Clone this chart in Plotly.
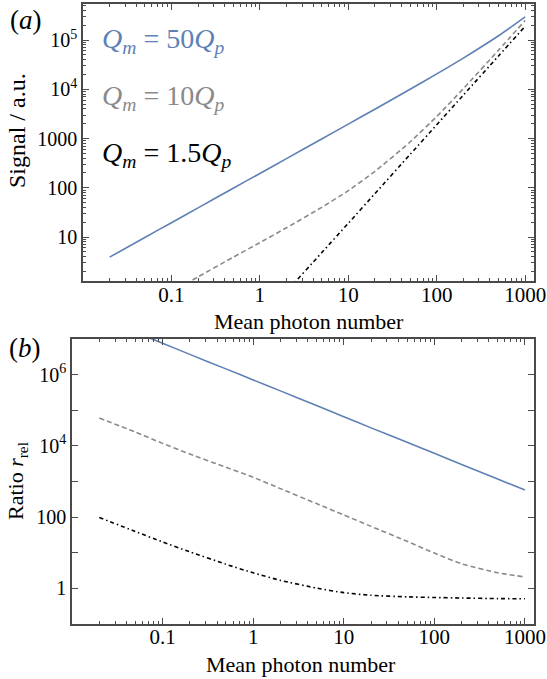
import plotly.graph_objects as go

# Mean photon number sample points (shared by both panels)
n_photons = [0.02, 0.05, 0.1, 0.2, 0.5, 1, 2, 5, 10, 20, 50, 100, 200, 500, 1000]

# Panel (a): signal in arbitrary units
signal_50 = [3.9, 9.8, 19.5, 39, 98, 195, 390, 980, 1960, 3940, 10000, 20500, 43000, 122000, 295000]
n_signal_10 = [0.1, 0.2, 0.5, 1, 2, 5, 10, 20, 50, 100, 200, 500, 1000]
signal_10 = [0.77, 1.55, 3.9, 7.7, 15.4, 40, 87.5, 215, 851, 2800, 10300, 62200, 249000]
n_signal_1p5 = [1, 2, 5, 10, 20, 50, 100, 200, 500, 1000]
signal_1p5 = [0.19, 0.78, 4.8, 19, 76, 475, 1900, 7600, 47500, 190000]

# Panel (b): relative ratio r_rel
ratio_50 = [4.0e7, 1.55e7, 7.6e6, 3.7e6, 1.45e6, 7.1e5, 3.5e5, 1.35e5, 6.6e4, 3.2e4,
            1.26e4, 6.2e3, 3.0e3, 1.17e3, 575]
ratio_10 = [60300, 24500, 11750, 5890, 2510, 1318, 631, 240, 115, 55, 20.9, 9.8, 4.9, 2.75, 2.09]
ratio_1p5 = [98, 39.5, 20.1, 10.6, 4.76, 2.73, 1.68, 1.02, 0.76, 0.64, 0.578, 0.555, 0.536, 0.517, 0.51]

# Tick labels
x_tickvals = [0.1, 1, 10, 100, 1000]
x_ticktext = ["0.1", "1", "10", "100", "1000"]
ya_tickvals = [10, 100, 1000, 1e4, 1e5]
ya_ticktext = ["10", "100", "1000", "10<sup>4</sup>", "10<sup>5</sup>"]
yb_tickvals = [0.1, 1, 10, 100, 1000, 1e4, 1e5, 1e6, 1e7]
yb_ticktext = ["", "1", "", "100", "", "10<sup>4</sup>", "", "10<sup>6</sup>", ""]

BLUE = "#5E81B5"
GRAY = "#8a8a8a"
BLACK = "#000000"
FONT = "'Liberation Serif', 'Times New Roman', Times, serif"
FRAME = "#4a4a4a"

W, H = 547, 679


def px_x(p):
    return p / W


def px_y(p):
    return 1 - p / H


fig = go.Figure()

line_w = 1.6
styles = [
    (BLUE, "solid"),
    (GRAY, "5px,3px"),
    (BLACK, "4px,3px,1.5px,3px"),
]

# Panel (a)
for xs, ys, (c, d) in zip(
    [n_photons, n_signal_10, n_signal_1p5],
    [signal_50, signal_10, signal_1p5],
    styles,
):
    fig.add_trace(go.Scatter(x=xs, y=ys, mode="lines", xaxis="x", yaxis="y",
                             line=dict(color=c, dash=d, width=line_w, shape="spline", smoothing=0.6),
                             showlegend=False, hoverinfo="skip"))

# Panel (b)
for ys, (c, d) in zip([ratio_50, ratio_10, ratio_1p5], styles):
    fig.add_trace(go.Scatter(x=n_photons, y=ys, mode="lines", xaxis="x2", yaxis="y2",
                             line=dict(color=c, dash=d, width=line_w, shape="spline", smoothing=0.6),
                             showlegend=False, hoverinfo="skip"))

xtick_font = dict(family=FONT, size=21, color="#000")
ytick_font = dict(family=FONT, size=20, color="#000")

common = dict(
    type="log", showgrid=False, zeroline=False, showline=True, linecolor=FRAME,
    linewidth=1.5, mirror="ticks", ticks="inside", ticklen=6, tickwidth=1,
    tickcolor=FRAME, automargin=False, tickmode="array",
)
minor = dict(ticks="inside", ticklen=3, tickwidth=1, tickcolor=FRAME, dtick="D1", showgrid=False)

fig.update_layout(
    width=W, height=H,
    margin=dict(l=0, r=0, t=0, b=0),
    paper_bgcolor="white", plot_bgcolor="white",
    xaxis=dict(common, domain=[px_x(83), px_x(534)], range=[-2, 3.1], anchor="y",
               tickvals=x_tickvals, ticktext=x_ticktext, minor=minor, tickfont=xtick_font,
               ticklabelstandoff=-6),
    yaxis=dict(common, domain=[px_y(281), px_y(4)], range=[0.107, 5.731], anchor="x",
               tickvals=ya_tickvals, ticktext=ya_ticktext, minor=minor, tickfont=ytick_font),
    xaxis2=dict(common, domain=[px_x(72), px_x(534)], range=[-2, 3.1], anchor="y2",
                tickvals=x_tickvals, ticktext=x_ticktext, minor=minor, tickfont=xtick_font,
                ticklabelstandoff=-7),
    yaxis2=dict(common, domain=[px_y(624), px_y(339)], range=[-1, 7], anchor="x2",
                tickvals=yb_tickvals, ticktext=yb_ticktext, tickfont=ytick_font),
)

title_font = dict(family=FONT, size=22, color="#000")
label_font = dict(family=FONT, size=28)
panel_font = dict(family=FONT, size=27, color="#000")

annotations = [
    dict(text="Mean photon number", x=px_x(309), y=px_y(321), font=title_font),
    dict(text="Mean photon number", x=px_x(301), y=px_y(664), font=title_font),
    dict(text="Signal / a.u.", x=px_x(17), y=px_y(131), textangle=-90, font=dict(title_font, size=24)),
    dict(text="Ratio <i>r</i><sub>rel</sub>", x=px_x(17), y=px_y(481), textangle=-90, font=title_font),
    dict(text="(<i>a</i>)", x=px_x(26), y=px_y(20), font=panel_font),
    dict(text="(<i>b</i>)", x=px_x(25), y=px_y(348), font=panel_font),
    dict(text="<i>Q</i><sub><i>m</i></sub> = 50<i>Q</i><sub><i>p</i></sub>", x=px_x(100), y=px_y(40),
         xanchor="left", font=dict(label_font, color=BLUE)),
    dict(text="<i>Q</i><sub><i>m</i></sub> = 10<i>Q</i><sub><i>p</i></sub>", x=px_x(100), y=px_y(98),
         xanchor="left", font=dict(label_font, color=GRAY)),
    dict(text="<i>Q</i><sub><i>m</i></sub> = 1.5<i>Q</i><sub><i>p</i></sub>", x=px_x(100), y=px_y(155),
         xanchor="left", font=dict(label_font, color=BLACK)),
]
for a in annotations:
    a.setdefault("xanchor", "center")
    a.update(xref="paper", yref="paper", showarrow=False, yanchor="middle")
fig.update_layout(annotations=annotations)

fig.write_html("out.html")
